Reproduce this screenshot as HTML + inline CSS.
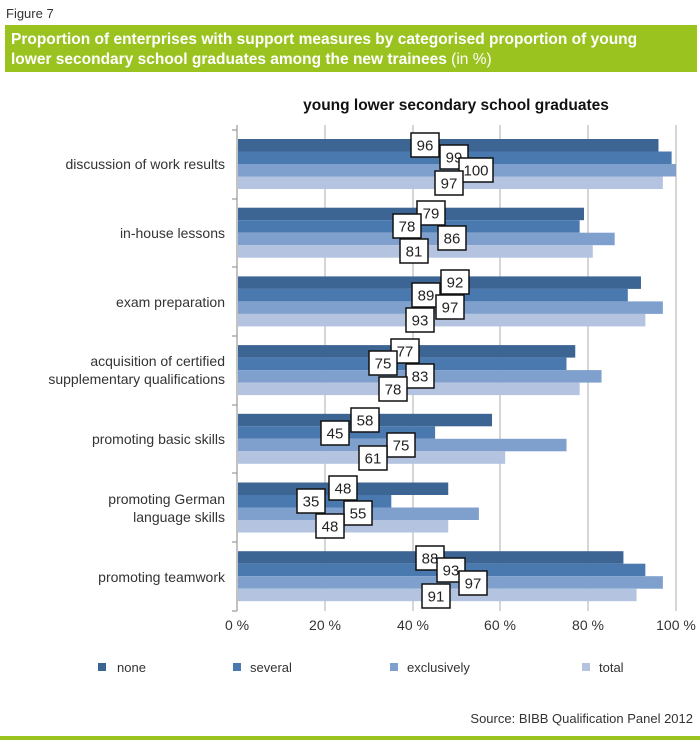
<!DOCTYPE html>
<html><head><meta charset="utf-8"><style>
body{margin:0;background:#fff;width:700px;height:747px;overflow:hidden;font-family:"Liberation Sans",sans-serif}
</style></head><body>
<svg width="700" height="747" xmlns="http://www.w3.org/2000/svg" font-family="Liberation Sans, sans-serif">
<text x="6" y="18" font-size="13" fill="#333">Figure 7</text>
<rect x="5" y="25" width="692" height="47" fill="#9bc31f"/>
<text x="11" y="44" font-size="15.5" font-weight="bold" fill="#fff">Proportion of enterprises with support measures by categorised proportion of young</text>
<text x="11" y="64" font-size="15.5" font-weight="bold" fill="#fff">lower secondary school graduates among the new trainees <tspan font-weight="normal">(in %)</tspan></text>
<text x="456" y="110" font-size="15.5" font-weight="bold" fill="#111" text-anchor="middle">young lower secondary school graduates</text>
<g stroke="#bbb" stroke-width="1.2">
<line x1="325" y1="125" x2="325" y2="611"/><line x1="413" y1="125" x2="413" y2="611"/>
<line x1="500" y1="125" x2="500" y2="611"/><line x1="588" y1="125" x2="588" y2="611"/>
<line x1="676" y1="125" x2="676" y2="611"/>
</g>
<g stroke="#999" stroke-width="1.2">
<line x1="237" y1="125" x2="237" y2="611"/>
<line x1="232" y1="130" x2="237" y2="130"/><line x1="232" y1="199" x2="237" y2="199"/>
<line x1="232" y1="267" x2="237" y2="267"/><line x1="232" y1="336" x2="237" y2="336"/>
<line x1="232" y1="405" x2="237" y2="405"/><line x1="232" y1="473" x2="237" y2="473"/>
<line x1="232" y1="542" x2="237" y2="542"/><line x1="232" y1="611" x2="237" y2="611"/>
</g>
<g id="bars"></g>
<g font-size="14" fill="#333" text-anchor="end">
<text x="225" y="169">discussion of work results</text>
<text x="225" y="238">in-house lessons</text>
<text x="225" y="307">exam preparation</text>
<text x="225" y="366">acquisition of certified</text>
<text x="225" y="384">supplementary qualifications</text>
<text x="225" y="444">promoting basic skills</text>
<text x="225" y="504">promoting German</text>
<text x="225" y="522">language skills</text>
<text x="225" y="582">promoting teamwork</text>
</g>
<g font-size="14" fill="#333" text-anchor="middle">
<text x="237" y="630">0 %</text><text x="325" y="630">20 %</text><text x="413" y="630">40 %</text>
<text x="500" y="630">60 %</text><text x="588" y="630">80 %</text><text x="676" y="630">100 %</text>
</g>
<g font-size="13" fill="#333">
<rect x="98" y="663" width="8" height="8" fill="#3d6594"/><text x="117" y="672">none</text>
<rect x="233" y="663" width="8" height="8" fill="#4a79b0"/><text x="250" y="672">several</text>
<rect x="390" y="663" width="8" height="8" fill="#7f9fcc"/><text x="407" y="672">exclusively</text>
<rect x="582" y="663" width="8" height="8" fill="#b4c3df"/><text x="599" y="672">total</text>
</g>
<text x="693" y="723" font-size="13" fill="#333" text-anchor="end">Source: BIBB Qualification Panel 2012</text>
<rect x="0" y="736" width="700" height="4" fill="#9bc31f"/>
<g id="labels"></g>
</svg>
<script>
var vals=[[96,99,100,97],[79,78,86,81],[92,89,97,93],[77,75,83,78],[58,45,75,61],[48,35,55,48],[88,93,97,91]];
var pos=[[[425,145],[454,157],[476,170],[449,183]],[[431,213],[407,226],[452,238],[414,251]],[[455,282],[426,295],[450,307],[420,320]],[[405,351],[383,363],[420,376],[393,389]],[[365,420],[335,433],[401,445],[373,458]],[[343,488],[311,501],[358,513],[330,526]],[[430,558],[451,570],[473,583],[436,596]]];
var cols=["#3d6594","#4a79b0","#7f9fcc","#b4c3df"];
var ns="http://www.w3.org/2000/svg",b=document.getElementById("bars"),l=document.getElementById("labels");
function el(t,a,p){var e=document.createElementNS(ns,t);for(var k in a)e.setAttribute(k,a[k]);p.appendChild(e);return e;}
for(var i=0;i<7;i++){var y0=130+68.7*i+9;for(var j=0;j<4;j++){
el("rect",{x:238,y:y0+12.5*j,width:vals[i][j]*4.38,height:12.5,fill:cols[j]},b);
var w=vals[i][j]>=100?34:28,p=pos[i][j];
el("rect",{x:p[0]-w/2,y:p[1]-12,width:w,height:24,fill:"#fff",stroke:"#111","stroke-width":1.5},l);
var t=el("text",{x:p[0],y:p[1]+5.5,"font-size":15,fill:"#222","text-anchor":"middle"},l);t.textContent=vals[i][j];}}
</script>
</body></html>
